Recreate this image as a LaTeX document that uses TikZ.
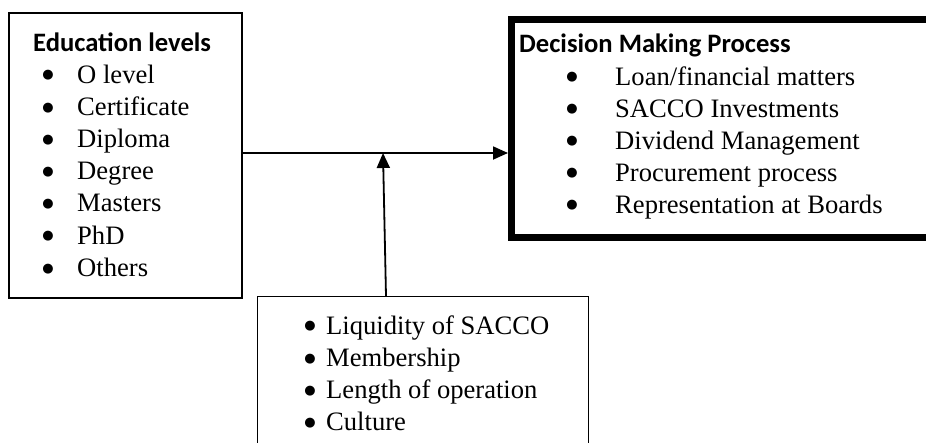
\documentclass[tikz,border=0pt]{standalone}
\usepackage{fontspec}
\setmainfont{Liberation Serif}
\newfontfamily\headfont{Carlito}
\newfontfamily\dotfont{DejaVu Sans}
\usetikzlibrary{arrows.meta}

\newcommand{\itemsize}{\fontsize{26.6}{30}\selectfont}

\begin{document}
\begin{tikzpicture}[x=1pt, y=-1pt,
        framebox/.style={draw, line width=1.5pt, inner sep=0pt, anchor=north west},
        headtext/.style={font=\headfont\bfseries\itemsize, anchor=base west, inner sep=0pt},
        itemtext/.style={font=\itemsize, anchor=base west, inner sep=0pt},
        bullet/.style={font=\dotfont\fontsize{13}{13}\selectfont, anchor=center, inner sep=0pt},
        arrowline/.style={line width=1.8pt, -{Triangle[length=15pt, width=13pt]}}]

        % 0. page size, the right and bottom boxes run off the page
        \useasboundingbox (0,0) rectangle (926,442);
        \clip (0,0) rectangle (926,442);

        % 1. the three boxes
        \node[framebox, minimum width=233pt, minimum height=285pt] (edu) at (8,12) {};
        \node[framebox, line width=7pt, minimum width=460pt, minimum height=218pt] (dmp) at (508,16) {};
        \node[framebox, line width=1.3pt, minimum width=331pt, minimum height=200pt] (ctx) at (257,296) {};

        % 2. education levels (left box)
        \node[headtext] (edu-head) at (33,51) {Education levels};
        \foreach \i/\txt in {0/O level, 1/Certificate, 2/Diploma, 3/Degree, 4/Masters, 5/PhD, 6/Others} {
            \node[bullet] (edu-b\i) at (48,{83+32.2*\i-7.5}) {●};
            \node[itemtext] (edu-\i) at (77,{83+32.2*\i}) {\txt};
        }

        % 3. decision making process (right box)
        \node[headtext] (dmp-head) at (519,52) {Decision Making Process};
        \foreach \i/\txt in {0/Loan\slash financial matters, 1/SACCO Investments, 2/Dividend Management,
                             3/Procurement process, 4/Representation at Boards} {
            \node[bullet] (dmp-b\i) at (572,{85+32*\i-7.5}) {●};
            \node[itemtext] (dmp-\i) at (615,{85+32*\i}) {\txt};
        }

        % 4. other factors (bottom box)
        \foreach \i/\txt in {0/Liquidity of SACCO, 1/Membership, 2/Length of operation, 3/Culture} {
            \node[bullet] (ctx-b\i) at (310,{334+32.3*\i-7.5}) {●};
            \node[itemtext] (ctx-\i) at (326,{334+32.3*\i}) {\txt};
        }

        % 5. arrows
        \coordinate (meet) at (383,153);
        \draw[arrowline] (edu.east |- meet) -- (dmp.west |- meet);
        \draw[arrowline] (ctx.north west) ++(129,0) -- (meet);

    \end{tikzpicture}
\end{document}
